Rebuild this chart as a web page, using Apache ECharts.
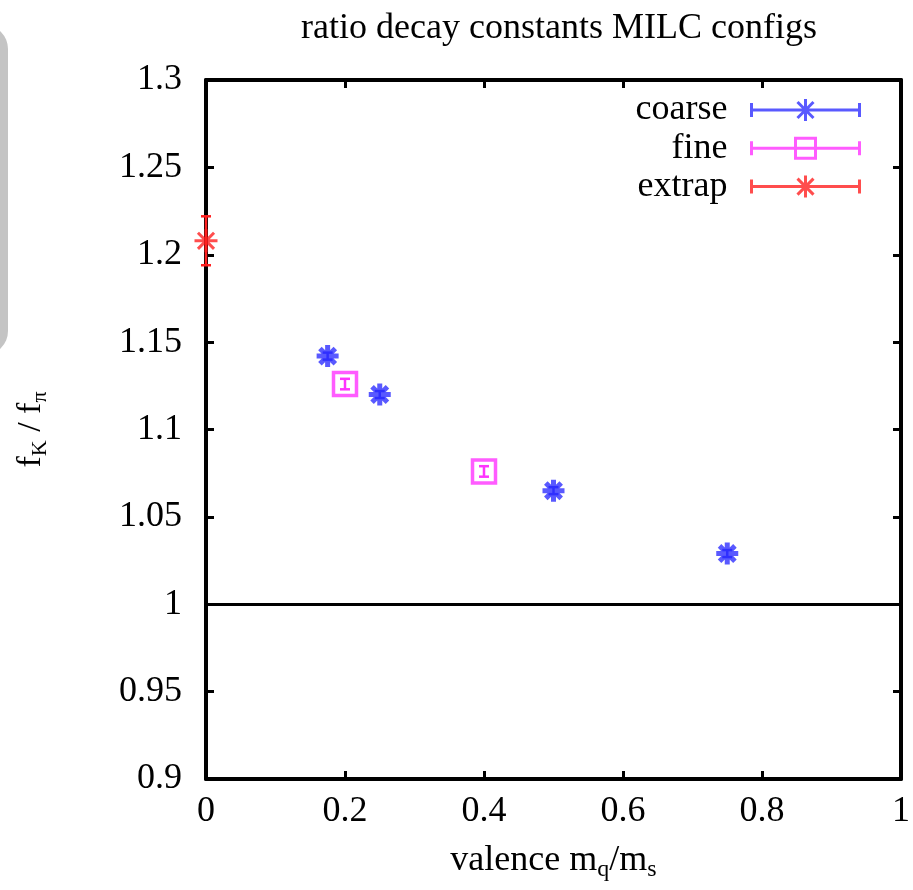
<!DOCTYPE html>
<html lang="en">
<head>
    <meta charset="UTF-8">
    <title>ratio decay constants MILC configs</title>
    <script src="https://cdn.jsdelivr.net/npm/echarts@6/dist/echarts.min.js"></script>
    <style>
        html, body { margin: 0; padding: 0; background: #fff; }
        #main { width: 913px; height: 890px; }
    </style>
</head>
<body>
<div id="main"></div>
<script type="text/javascript">
    // data
    var coarseX = [0.175, 0.25, 0.5, 0.75];
    var coarseY = [1.142, 1.120, 1.065, 1.029];
    var coarseErr = [0.002, 0.002, 0.002, 0.002];

    var fineX = [0.2, 0.4];
    var fineY = [1.126, 1.076];
    var fineErr = [0.003, 0.003];

    var extrapX = [0];
    var extrapY = [1.208];
    var extrapErr = [0.014];

    var FONT = 'Liberation Serif';
    var BLUE = '#2f2fff', PINK = '#ff33ff', RED = '#ff2020';

    function pts(xs, ys) {
        return xs.map(function (x, i) { return [x, ys[i]]; });
    }
    function errPts(xs, ys, es) {
        return xs.map(function (x, i) { return [x, ys[i], es[i]]; });
    }

    // vertical error bar with small caps
    function renderErr(params, api) {
        var x = api.value(0), y = api.value(1), e = api.value(2);
        var hi = api.coord([x, y + e]);
        var lo = api.coord([x, y - e]);
        var c = api.visual('color');
        var cap = 5;
        var st = {stroke: c, lineWidth: 2.5};
        return {
            type: 'group',
            children: [
                {type: 'line', shape: {x1: hi[0], y1: hi[1], x2: lo[0], y2: lo[1]}, style: st},
                {type: 'line', shape: {x1: hi[0] - cap, y1: hi[1], x2: hi[0] + cap, y2: hi[1]}, style: st},
                {type: 'line', shape: {x1: lo[0] - cap, y1: lo[1], x2: lo[0] + cap, y2: lo[1]}, style: st}
            ]
        };
    }

    var starPath = 'path://M0,10 L20,10 M10,0 L10,20 M3,3 L17,17 M17,3 L3,17';
    var squarePath = 'path://M0,0 L20,0 L20,20 L0,20 Z';

    // legend icons: error bar line with caps and the marker in the middle
    var iconStar = 'path://M0,11 L110,11 M1,4 L1,18 M109,4 L109,18 M44,11 L66,11 M55,0 L55,22 M47,3 L63,19 M63,3 L47,19';
    var iconSquare = 'path://M0,11 L110,11 M1,4 L1,18 M109,4 L109,18 M45,1 L65,1 L65,21 L45,21 Z';

    var myChart = echarts.init(document.getElementById('main'));

    var tickStyle = {show: true, inside: true, length: 8, lineStyle: {color: '#000', width: 3}};
    var lineStyle = {show: true, onZero: false, lineStyle: {color: '#000', width: 4}};

    var option = {
        animation: false,
        backgroundColor: '#fff',
        title: {
            text: 'ratio decay constants MILC configs',
            left: 554,
            textAlign: 'center',
            top: 6,
            textStyle: {fontFamily: FONT, fontSize: 36, fontWeight: 'normal', color: '#000'}
        },
        graphic: [{
            type: 'rect',
            shape: {x: -40, y: 25, width: 48, height: 330, r: 30},
            style: {fill: '#c4c4c4'},
            silent: true
        }],
        legend: {
            orient: 'vertical',
            right: 46,
            top: 86,
            align: 'right',
            itemWidth: 110,
            itemHeight: 22,
            itemGap: 0.3,
            selectedMode: false,
            textStyle: {fontFamily: FONT, fontSize: 36, color: '#000', lineHeight: 38, padding: [0, 18, 0, 0]},
            data: [
                {name: 'coarse', icon: iconStar, itemStyle: {color: 'transparent', borderColor: BLUE, borderWidth: 3}},
                {name: 'fine', icon: iconSquare, itemStyle: {color: 'transparent', borderColor: PINK, borderWidth: 3}},
                {name: 'extrap', icon: iconStar, itemStyle: {color: 'transparent', borderColor: RED, borderWidth: 3}}
            ]
        },
        grid: {left: 206, right: 10, top: 80, bottom: 111},
        xAxis: [{
            type: 'value',
            min: 0, max: 1, interval: 0.2,
            name: 'valence m{sub|q}/m{sub|s}',
            nameLocation: 'middle',
            nameGap: 61,
            nameTextStyle: {
                fontFamily: FONT, fontSize: 36, color: '#000',
                rich: {sub: {fontFamily: FONT, fontSize: 24, color: '#000', padding: [18, 0, 0, 0]}}
            },
            axisLine: lineStyle,
            axisTick: tickStyle,
            splitLine: {show: false},
            axisLabel: {margin: 15, fontFamily: FONT, fontSize: 36, color: '#000'}
        }, {
            type: 'value',
            position: 'top',
            min: 0, max: 1, interval: 0.2,
            axisLine: lineStyle,
            axisTick: tickStyle,
            splitLine: {show: false},
            axisLabel: {show: false}
        }],
        yAxis: [{
            type: 'value',
            min: 0.9, max: 1.3, interval: 0.05,
            name: 'f{sub|K} / f{sub|π}',
            nameLocation: 'middle',
            nameGap: 155,
            nameRotate: 90,
            nameTextStyle: {
                fontFamily: FONT, fontSize: 34, color: '#000',
                rich: {sub: {fontFamily: FONT, fontSize: 22, color: '#000', padding: [18, 0, 0, 0]}}
            },
            axisLine: lineStyle,
            axisTick: tickStyle,
            splitLine: {show: false},
            axisLabel: {margin: 24, fontFamily: FONT, fontSize: 36, color: '#000'}
        }, {
            type: 'value',
            position: 'right',
            min: 0.9, max: 1.3, interval: 0.05,
            axisLine: lineStyle,
            axisTick: tickStyle,
            splitLine: {show: false},
            axisLabel: {show: false}
        }],
        series: [
            {
                name: 'coarse',
                type: 'scatter',
                data: pts(coarseX, coarseY),
                symbol: starPath,
                symbolSize: 22,
                itemStyle: {color: 'transparent', borderColor: BLUE, borderWidth: 5},
                emphasis: {disabled: true},
                markLine: {
                    silent: true,
                    symbol: 'none',
                    label: {show: false},
                    lineStyle: {color: '#000', width: 3, type: 'solid'},
                    data: [{yAxis: 1}]
                },
                z: 3
            },
            {
                name: 'fine',
                type: 'scatter',
                data: pts(fineX, fineY),
                symbol: squarePath,
                symbolSize: 23,
                itemStyle: {color: 'transparent', borderColor: PINK, borderWidth: 3.5},
                emphasis: {disabled: true},
                z: 3
            },
            {
                name: 'extrap',
                type: 'scatter',
                data: pts(extrapX, extrapY),
                symbol: starPath,
                symbolSize: 23,
                itemStyle: {color: 'transparent', borderColor: RED, borderWidth: 3},
                emphasis: {disabled: true},
                z: 3
            },
            {
                name: 'coarse',
                type: 'custom',
                renderItem: renderErr,
                data: errPts(coarseX, coarseY, coarseErr),
                itemStyle: {color: BLUE},
                z: 3
            },
            {
                name: 'fine',
                type: 'custom',
                renderItem: renderErr,
                data: errPts(fineX, fineY, fineErr),
                itemStyle: {color: PINK},
                z: 3
            },
            {
                name: 'extrap',
                type: 'custom',
                renderItem: renderErr,
                data: errPts(extrapX, extrapY, extrapErr),
                itemStyle: {color: RED},
                z: 3
            }
        ]
    };

    myChart.setOption(option);
</script>
</body>
</html>
